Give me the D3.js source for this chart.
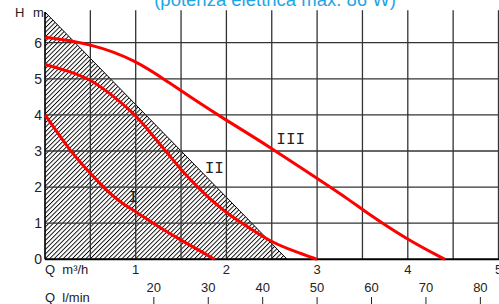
<!DOCTYPE html>
<html><head><meta charset="utf-8">
<script src="https://cdn.jsdelivr.net/npm/d3@7"></script>
<style>
html,body{margin:0;padding:0;background:#fff;overflow:hidden}
svg{display:block}
</style></head>
<body>
<svg id="c" width="499" height="304"></svg>
<script>
const title = "(potenza elettrica max. 86 W)";
const qTicks = [1, 2, 3, 4, 5];
const hTicks = [0, 1, 2, 3, 4, 5, 6];
const gridQ = [0.5, 1, 1.5, 2, 2.5, 3, 3.5, 4, 4.5, 5];
const lminTicks = [20, 30, 40, 50, 60, 70, 80];
const hatchArea = [[0, 6.85], [2.67, 0], [0, 0]];
const curveI = [[0,4.0],[0.14,3.5],[0.28,3.0],[0.42,2.6],[0.55,2.25],[0.7,1.85],[0.85,1.55],[1.0,1.32],[1.25,0.9],[1.5,0.53],[1.7,0.25],[1.87,0]];
const curveII = [[0,5.40],[0.25,5.22],[0.5,5.0],[0.79,4.45],[1.0,4.0],[1.19,3.42],[1.38,2.85],[1.52,2.42],[1.71,1.92],[2.0,1.27],[2.26,0.86],[2.5,0.47],[2.75,0.22],[3.0,0]];
const curveIII = [[0,6.15],[0.5,5.98],[1.0,5.52],[1.38,4.87],[1.63,4.45],[2.0,3.85],[2.26,3.45],[2.5,3.07],[3.0,2.24],[3.36,1.64],[3.5,1.37],[4.0,0.53],[4.41,0]];
const curveLabels = [["III", 2.55, 3.2], ["II", 1.76, 2.4], ["I", 0.92, 1.6]];

const svg = d3.select("#c");
const x = d3.scaleLinear().domain([0, 5]).range([45, 498.5]);
const y = d3.scaleLinear().domain([0, 6]).range([259.3, 42.7]);
const lToQ = l => l * 60 / 1000;

// hatch pattern
const defs = svg.append("defs");
const pat = defs.append("pattern").attr("id", "hatch").attr("patternUnits", "userSpaceOnUse")
  .attr("width", 3.2).attr("height", 3.2).attr("patternTransform", "rotate(45)");
pat.append("rect").attr("width", 3.2).attr("height", 3.2).attr("fill", "#fff");
pat.append("line").attr("x1", 0).attr("y1", 0).attr("x2", 0).attr("y2", 3.2)
  .attr("stroke", "#000").attr("stroke-width", 1.8);

svg.append("path")
  .attr("d", d3.line().x(d => x(d[0])).y(d => y(d[1]))(hatchArea) + "Z")
  .attr("fill", "url(#hatch)").attr("stroke", "#000").attr("stroke-width", 1);

// grid
const g = svg.append("g").attr("stroke", "#333").attr("stroke-width", 1.3);
g.selectAll("line.v").data(gridQ).join("line").attr("class", "v")
  .attr("x1", d => x(d)).attr("x2", d => x(d)).attr("y1", y(6.9)).attr("y2", y(0));
g.selectAll("line.h").data(hTicks.filter(d => d > 0)).join("line").attr("class", "h")
  .attr("x1", x(0)).attr("x2", 499).attr("y1", d => y(d)).attr("y2", d => y(d));
svg.append("line").attr("x1", x(0)).attr("x2", 499).attr("y1", y(0)).attr("y2", y(0))
  .attr("stroke", "#000").attr("stroke-width", 2);
svg.append("line").attr("x1", x(0)).attr("x2", x(0)).attr("y1", y(6.85)).attr("y2", y(0))
  .attr("stroke", "#000").attr("stroke-width", 1.3);

// curves
const lineC = d3.line().x(d => x(d[0])).y(d => y(d[1])).curve(d3.curveBasis);
[curveI, curveII, curveIII].forEach(c => {
  svg.append("path").attr("d", lineC(c)).attr("fill", "none")
    .attr("stroke", "#ff0000").attr("stroke-width", 3).attr("stroke-linecap", "butt");
});

// curve labels
svg.selectAll("text.cl").data(curveLabels).join("text").attr("class", "cl")
  .attr("x", d => x(d[1])).attr("y", d => y(d[2]))
  .attr("font-family", "Liberation Mono, monospace").attr("font-size", 16)
  .attr("fill", "#222").text(d => d[0]);

// y labels
const fontS = "Liberation Sans, Arial, sans-serif";
svg.selectAll("text.yl").data(hTicks).join("text").attr("class", "yl")
  .attr("x", 42).attr("y", d => y(d) + 5).attr("text-anchor", "end")
  .attr("font-family", fontS).attr("font-size", 14).attr("fill", "#222").text(d => d);
svg.append("text").attr("x", 15).attr("y", 17).attr("font-family", fontS).attr("font-size", 13).attr("fill", "#222").text("H");
svg.append("text").attr("x", 33).attr("y", 17).attr("font-family", fontS).attr("font-size", 13).attr("fill", "#222").text("m");

// x labels
svg.selectAll("text.xl").data(qTicks).join("text").attr("class", "xl")
  .attr("x", d => x(d)).attr("y", 274).attr("text-anchor", "middle")
  .attr("font-family", fontS).attr("font-size", 13).attr("fill", "#222").text(d => d);
svg.append("text").attr("x", 45).attr("y", 274).attr("font-family", fontS).attr("font-size", 13)
  .attr("fill", "#222").attr("xml:space", "preserve").text("Q  m³/h");

// l/min axis
svg.selectAll("text.ll").data(lminTicks).join("text").attr("class", "ll")
  .attr("x", d => x(lToQ(d))).attr("y", 292).attr("text-anchor", "middle")
  .attr("font-family", fontS).attr("font-size", 13).attr("fill", "#222").text(d => d);
svg.selectAll("line.lt").data(lminTicks).join("line").attr("class", "lt")
  .attr("x1", d => x(lToQ(d))).attr("x2", d => x(lToQ(d))).attr("y1", 297).attr("y2", 304)
  .attr("stroke", "#222").attr("stroke-width", 1);
svg.append("text").attr("x", 45).attr("y", 302).attr("font-family", fontS).attr("font-size", 13)
  .attr("fill", "#222").attr("xml:space", "preserve").text("Q  l/min");

// title
svg.append("text").attr("x", 275).attr("y", 6).attr("text-anchor", "middle")
  .attr("font-family", fontS).attr("font-size", 18.5).attr("fill", "#1ea6e6").text(title);
</script>
</body></html>
